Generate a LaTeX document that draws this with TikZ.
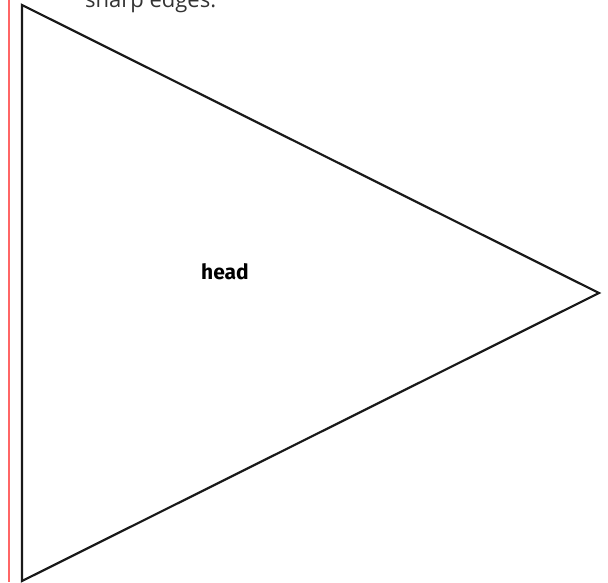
\documentclass[tikz,border=0pt]{standalone}
\usepackage{fontspec}
\setmainfont{Fira Sans}
\newfontfamily\notefont{Open Sans}
\usepackage{tikz}
\usetikzlibrary{positioning}

\begin{document}
\begin{tikzpicture}[
			x=1pt, y=-1pt,
			marginrule/.style={draw=red!60!white, line width=2pt},
			pennant/.style={draw=black!90, line width=2.2pt, line join=miter},
			partname/.style={font=\fontsize{21}{24}\selectfont\bfseries, inner sep=0pt},
			note/.style={font=\notefont\fontsize{22}{26}\selectfont, text=black!80, inner sep=0pt, anchor=base west}
			]
			\useasboundingbox (0,0) rectangle (608,582);
			% margin rule
			\coordinate (mtop) at (9,0);
			\coordinate (mbot) at (9,582);
			\draw[marginrule] (mtop) -- (mbot);
			% the arrow head
			\coordinate (tl) at (22,5);
			\coordinate (tip) at (599,293);
			\coordinate (bl) at (22,581);
			\draw[pennant] (tl) -- (tip) -- (bl) -- cycle;
			\node[partname] (head) at (225,272) {head};
			\node[note] (edges) at (85,7) {sharp edges.};
		\end{tikzpicture}
\end{document}
